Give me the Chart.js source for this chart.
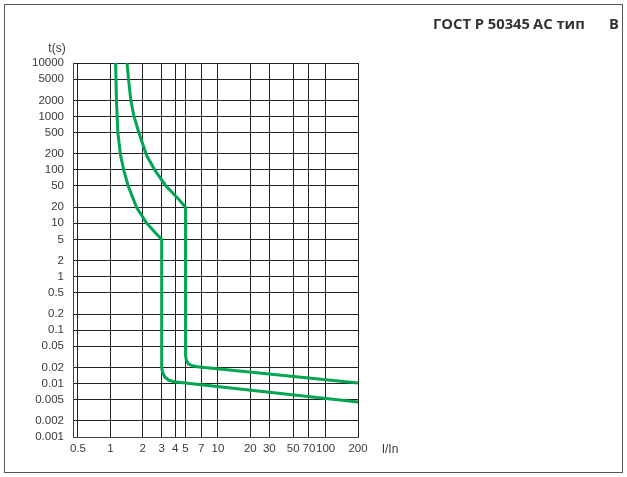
<!DOCTYPE html>
<html><head><meta charset="utf-8">
<script src="https://cdn.jsdelivr.net/npm/chart.js@4"></script>
<style>html,body{margin:0;padding:0;background:#fff;}#wrap{position:relative;width:627px;height:477px;}canvas{display:block}</style>
</head><body><div id="wrap"><canvas id="c" width="627" height="477"></canvas></div>
<script>
// Tick labels
const xTicks = [0.5, 1, 2, 3, 4, 5, 7, 10, 20, 30, 50, 70, 100, 200];
const yTicks = [10000, 5000, 2000, 1000, 500, 200, 100, 50, 20, 10, 5, 2, 1, 0.5, 0.2, 0.1, 0.05, 0.02, 0.01, 0.005, 0.002, 0.001];
// Lower curve (I/In, t)
const lowX = [1.12, 1.14, 1.175, 1.244, 1.335, 1.46, 1.75, 2.15, 2.54, 3, 3, 3.05, 3.22, 3.51, 3.90, 200];
const lowY = [10000, 2000, 500, 187, 98, 51, 20, 10.4, 7.1, 5, 0.0202, 0.01626, 0.01311, 0.01153, 0.0108, 0.0045];
// Upper curve (I/In, t)
const highX = [1.43, 1.476, 1.55, 1.66, 1.84, 2.17, 2.6, 3.26, 4.4, 5, 5, 5.08, 5.30, 5.77, 6.42, 200];
const highY = [10000, 5000, 2000, 1000, 500, 187, 98, 51, 27, 20, 0.0338, 0.0273, 0.02345, 0.0215, 0.0206, 0.0103];

const toPts = (xs, ys) => xs.map((x, i) => ({x: x, y: ys[i]}));
const GREEN = 'rgb(0,166,81)';
const GRID = '#222';
const TICKFONT = '"Liberation Sans Narrow", "Liberation Sans", sans-serif';
const TITLEFONT = '"Open Sans", "Noto Sans", sans-serif';

Chart.defaults.font.family = TICKFONT;
Chart.defaults.font.size = 11.5;
Chart.defaults.color = '#3a3a3a';

const extras = {
  id: 'extras',
  afterDraw(chart) {
    const ctx = chart.ctx;
    ctx.save();
    ctx.strokeStyle = '#555';
    ctx.lineWidth = 1;
    ctx.strokeRect(4.5, 4.5, 618, 468);
    ctx.fillStyle = '#3a3a3a';
    ctx.font = '12px ' + TICKFONT;
    ctx.textAlign = 'center';
    ctx.textBaseline = 'middle';
    ctx.fillText('t(s)', 57, 49);
    ctx.fillText('I/In', 390, 450);
    ctx.fillStyle = '#333';
    ctx.textAlign = 'left';
    ctx.textBaseline = 'alphabetic';
    ctx.font = 'bold 13px ' + TITLEFONT;
    const m = ctx.measureText('ГОСТ Р 50345').width;
    const size = Math.max(11, Math.min(15, 13 * 97 / m));
    ctx.font = 'bold ' + size.toFixed(2) + 'px ' + TITLEFONT;
    ctx.fillText('ГОСТ Р 50345', 433, 29);
    ctx.fillText('АС тип', 533, 29);
    ctx.fillText('B', 609, 29);
    ctx.restore();
  }
};

new Chart(document.getElementById('c'), {
  type: 'line',
  data: {
    datasets: [
      {data: toPts(lowX, lowY), borderColor: GREEN, borderWidth: 3, pointRadius: 0, tension: 0, fill: false},
      {data: toPts(highX, highY), borderColor: GREEN, borderWidth: 3, pointRadius: 0, tension: 0, fill: false}
    ]
  },
  options: {
    responsive: false,
    animation: false,
    layout: {padding: {top: 63, right: 269, bottom: 0, left: 0}},
    plugins: {legend: {display: false}, tooltip: {enabled: false}, title: {display: false}},
    scales: {
      x: {
        type: 'logarithmic', min: 0.45, max: 200,
        afterBuildTicks: s => { s.ticks = xTicks.map(v => ({value: v})); },
        afterFit: s => { s.height = 40; },
        ticks: {autoSkip: false, maxRotation: 0, padding: 5, callback: v => String(v)},
        grid: {color: GRID, lineWidth: 1, drawTicks: false},
        border: {display: true, color: '#444', width: 1}
      },
      y: {
        type: 'logarithmic', min: 0.001, max: 10000,
        afterBuildTicks: s => { s.ticks = yTicks.map(v => ({value: v})); },
        afterFit: s => { s.width = 73; },
        ticks: {autoSkip: false, padding: 9, callback: v => String(v)},
        grid: {color: GRID, lineWidth: 1, drawTicks: false},
        border: {display: true, color: '#444', width: 1}
      }
    }
  },
  plugins: [extras]
});
</script></body></html>
